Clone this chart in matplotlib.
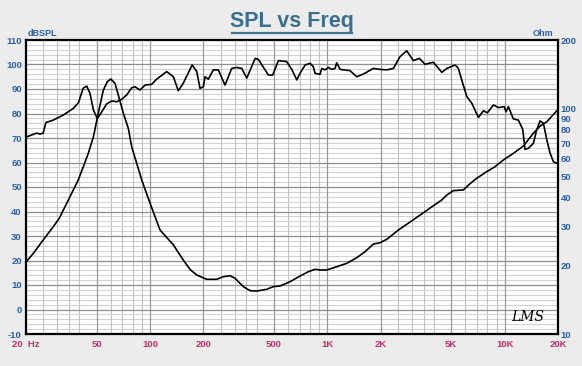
import matplotlib
matplotlib.use("Agg")
import matplotlib.pyplot as plt
import numpy as np
from matplotlib.lines import Line2D

# ---- data ----
spl_freq = [20.2, 23, 24, 25, 25.9, 28.5, 32.5, 37, 39.5, 42, 44, 45.9, 48, 50.5, 53.5, 57, 60.9, 65,
            69.3, 74, 78.9, 82.4, 87.9, 93.8, 102.3, 109, 124.4, 135.5, 144.5, 154, 173, 183.6, 191.5,
            200, 204.6, 213.4, 227.6, 243, 265, 289, 308, 329.5, 351.5, 392, 408.5, 445.7, 465.6, 492.5,
            530, 590.4, 630.5, 673, 702, 750, 800, 834, 853, 910, 931, 971, 1014, 1059, 1106, 1130, 1181,
            1343, 1466, 1596, 1820, 1986, 2163, 2360, 2571, 2805, 3057, 3305, 3557, 3965, 4425, 4720,
            5260, 5486, 5730, 6120, 6530, 7115, 7590, 8000, 8650, 9230, 9935, 10190, 10500, 11200, 11960,
            12650, 13030, 13610, 14520, 15170, 15850, 16550, 17300, 18050, 18850, 19700]
spl_db = [70.5, 72, 71.6, 72, 76.3, 77.3, 79.4, 82.1, 84.4, 90.3, 91.2, 88.2, 81.4, 77.9, 80.7, 83.9,
          85.1, 84.8, 85.8, 87.6, 90.5, 90.9, 89.6, 91.6, 91.9, 94, 97.1, 95, 89.3, 92.3, 99.8, 97.1, 90.3,
          90.9, 95, 94, 97.8, 97.8, 91.6, 98.4, 98.8, 98.4, 94.4, 102.5, 102.1, 97.8, 95.7, 95.7, 101.6,
          101.2, 98, 93.7, 96.4, 99.8, 100.5, 99.1, 96.4, 96, 98.4, 97.8, 98.8, 98, 98.4, 100.7, 98,
          97.5, 95, 96.1, 98.4, 98, 97.8, 98.4, 103.2, 105.6, 101.6, 102.5, 100.1, 100.9, 96.8, 98.4,
          99.8, 98.4, 93.7, 86.9, 84.2, 78.4, 81.1, 80.3, 83.5, 82.4, 82.8, 80.7, 82.8, 77.8, 77.3,
          73.5, 65.4, 65.8, 67.8, 73.3, 77, 76, 69.2, 63.8, 60.3, 59.7]

imp_freq = [20, 22, 25, 28.5, 30.8, 39.4, 42.1, 44.9, 48, 51.1, 54.6, 57.5, 60.1, 63.5, 66.3, 70.8,
            75.5, 78.9, 84.2, 89.9, 100, 114, 135.5, 154.2, 168.3, 183.6, 209, 238, 259.4, 283, 302,
            336.3, 366.7, 400, 455.5, 496.6, 542, 616.6, 703, 782, 853, 910, 993, 1130, 1288, 1466,
            1633, 1820, 1986, 2163, 2360, 2518, 2931, 3335, 3800, 4425, 4720, 5140, 5860, 6250, 6970,
            7930, 8830, 9840, 11200, 12760, 14520, 15850, 17300, 19700]
imp_ohm = [20.8, 22.75, 26.06, 29.85, 32.5, 48, 55, 63, 74.6, 94.7, 120.1, 130.8, 134.4, 128.6, 114.2,
           94.7, 81.3, 67.4, 56.9, 48, 38, 28.85, 24.8, 21.25, 19.3, 18.24, 17.46, 17.46, 17.93, 18.11,
           17.64, 16.2, 15.55, 15.49, 15.77, 16.2, 16.31, 17.04, 18.06, 18.87, 19.33, 19.2, 19.2, 19.85,
           20.55, 21.76, 23.13, 25, 25.35, 26.24, 27.7, 28.85, 31.3, 33.6, 36.1, 39.2, 41.2, 43.1, 43.4,
           45.6, 48.9, 52.3, 55, 58.9, 63, 67.9, 77.3, 83.2, 87, 97.3]

db_ticks = list(range(-10, 111, 10))
x_ticks = [20, 50, 100, 200, 500, 1000, 2000, 5000, 10000, 20000]
x_labels = ["20  Hz", "50", "100", "200", "500", "1K", "2K", "5K", "10K", "20K"]
ohm_ticks = [10, 20, 30, 40, 50, 60, 70, 80, 90, 100, 200]

FONT = "Liberation Sans"
BLUE = "#2c5fa8"
RED = "#c0306a"

# ---- figure ----
W, H = 582, 366
fig = plt.figure(figsize=(W / 100, H / 100), dpi=100, facecolor="#ececec")
L, R, T, B = 26, 558, 40, 334
ax = fig.add_axes([L / W, 1 - B / H, (R - L) / W, (B - T) / H])
ax.set_facecolor("white")
ax.set_xscale("log")
ax.set_xlim(20, 20000)
ax.set_ylim(-10, 110)

# grid
for y in range(-8, 110, 2):
    if y % 10:
        ax.axhline(y, color="#d2d2d2", lw=0.8, zorder=0)
for y in range(0, 110, 10):
    ax.axhline(y, color="#8e8e8e", lw=0.9, zorder=0.5)
for dec in [10, 100, 1000, 10000]:
    for m in [2, 2.5, 3, 3.5, 4, 5, 6, 7, 8, 9, 10]:
        f = m * dec
        if 20 < f < 20000:
            dark = m in (2, 5, 10)
            ax.axvline(f, color="#999999" if dark else "#c2c2c2", lw=0.9 if dark else 0.8, zorder=0.4)

ax.plot(spl_freq, spl_db, color="black", lw=1.2, zorder=3)

ax.set_yticks(db_ticks)
ax.set_yticklabels([str(t) for t in db_ticks], color=BLUE, fontsize=6.8, fontweight="bold", family=FONT)
ax.set_xticks(x_ticks)
ax.set_xticklabels(x_labels, color=RED, fontsize=6.8, fontweight="bold", family=FONT)
ax.xaxis.set_minor_locator(matplotlib.ticker.NullLocator())
ax.tick_params(axis="both", length=0, pad=3)
ax.tick_params(axis="x", pad=4)
for s in ax.spines.values():
    s.set_linewidth(1.6)
    s.set_color("black")

ax2 = ax.twinx()
ax2.set_yscale("log")
ax2.set_ylim(10, 200)
ax2.plot(imp_freq, imp_ohm, color="black", lw=1.2, zorder=3)
ax2.set_yticks(ohm_ticks)
ax2.set_yticklabels([str(t) for t in ohm_ticks], color=BLUE, fontsize=6.8, fontweight="bold", family=FONT)
ax2.yaxis.set_minor_locator(matplotlib.ticker.NullLocator())
ax2.tick_params(axis="y", length=0, pad=2)
for s in ax2.spines.values():
    s.set_visible(False)

# labels
fig.text(L / W + 0.002, 1 - 34 / H, "dBSPL", color=BLUE, fontsize=6.5, fontweight="bold",
         family=FONT, ha="left", va="center")
fig.text(553 / W, 1 - 34 / H, "Ohm", color=BLUE, fontsize=6.5, fontweight="bold",
         family=FONT, ha="right", va="center")
ax.text(0.975, 0.035, "LMS", transform=ax.transAxes, fontsize=10, fontstyle="italic",
        family="DejaVu Serif", ha="right", va="bottom", color="black")

# title with underline
TITLE = "#3b6f8e"
fig.text(292 / W, 1 - 21 / H, "SPL vs Freq", color=TITLE, fontsize=15.5, fontweight="bold",
         family=FONT, ha="center", va="center")
fig.add_artist(Line2D([232 / W, 352 / W], [1 - 32.5 / H, 1 - 32.5 / H], color=TITLE, lw=1.6))

fig.savefig("out.png", dpi=100, facecolor=fig.get_facecolor())
